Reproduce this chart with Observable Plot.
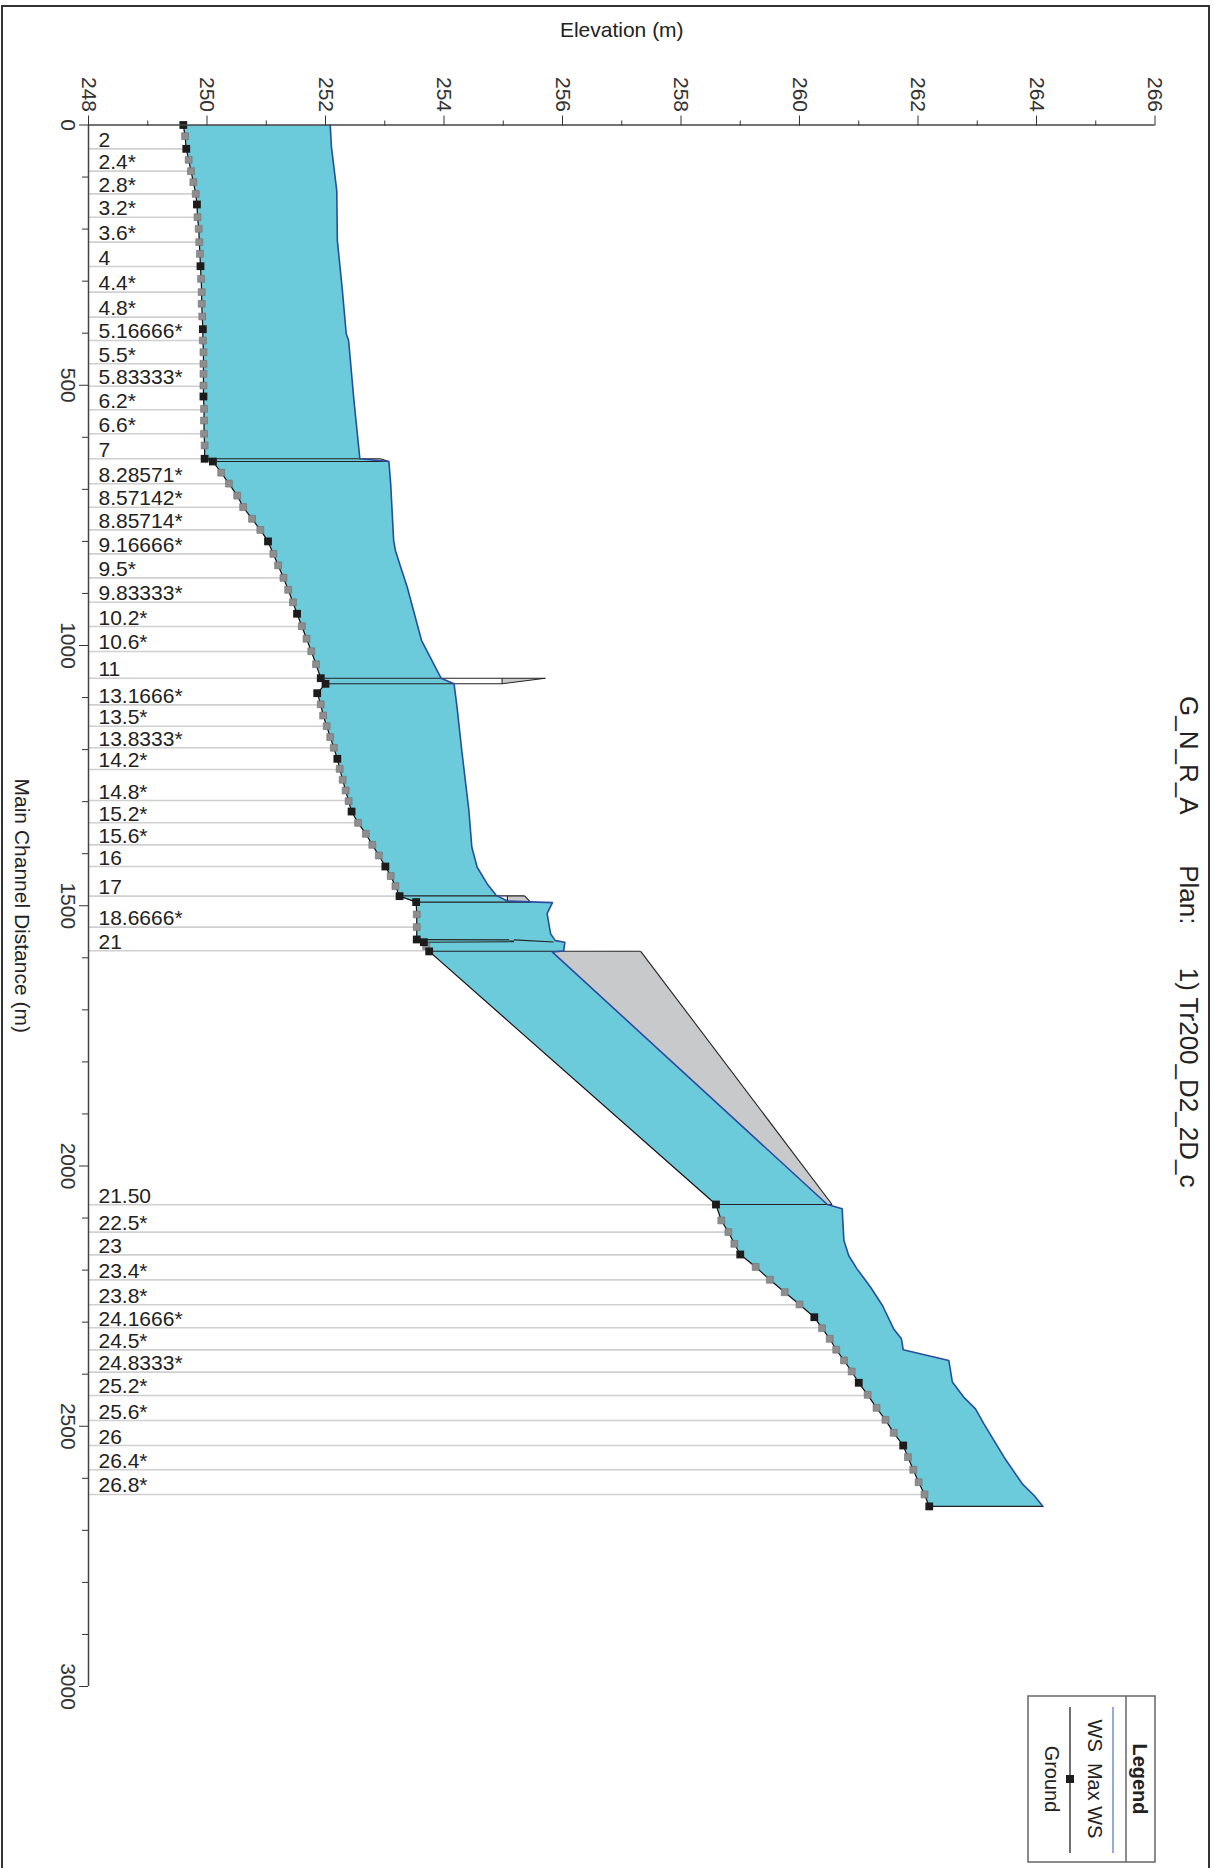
<!DOCTYPE html>
<html><head><meta charset="utf-8">
<script src="https://cdn.jsdelivr.net/npm/d3@7"></script>
<script src="https://cdn.jsdelivr.net/npm/@observablehq/plot@0.6"></script>
<style>
body{margin:0;background:#fff;}
#page{position:relative;width:1214px;height:1868px;overflow:hidden;background:#fff;font-family:"Liberation Sans",Arial,Helvetica,sans-serif;}
#chart{position:absolute;left:0;top:0;}
#border{position:absolute;left:1px;top:5px;width:1205px;height:1880px;border:2.5px solid #333;}
#legend{position:absolute;left:1027px;top:1695px;}
</style></head><body>
<div id="page"><div id="chart"></div><div id="border"></div><div id="legend"></div></div>
<script>
// ---------- data ----------
const groundDist = [0,21.5,45.8,66.9,88.7,109.8,132.3,152.7,177.1,199.5,225.1,247.5,271.3,295.6,321.1,343.5,367.9,392.3,414,436.5,458.8,478,500.5,521.6,545.3,567.7,593.3,615.8,641.3,
  646.5,668,689,712,734,756.6,778,800,824,846,870,893,917,939,963,987,1011,1036,1062.8,
  1073.6,1091.6,1113,1134.6,1155,1176,1196.5,1217.7,1237,1258,1278.6,1299,1319,1340.7,1361.8,1383,1403.5,1424.6,1443,1462.3,1481.6,
  1493,1516.7,1541,1564.8,1570,1578,1587.7,
  2074,2104.6,2127,2149.5,2170,2194,2218.6,2242.5,2266,2290.5,2311.6,2332,2353,2373.6,2394.8,2416.5,2439.6,2464.6,2487.7,2512.6,2537,2559.4,2583.7,2607.5,2631,2654];
const groundElev = [249.60,249.63,249.65,249.69,249.73,249.77,249.81,249.83,249.84,249.86,249.87,249.88,249.89,249.90,249.91,249.91,249.92,249.93,249.93,249.94,249.94,249.94,249.94,249.94,249.95,249.95,249.95,249.96,249.96,
  250.10,250.24,250.37,250.51,250.61,250.76,250.90,251.03,251.12,251.20,251.29,251.37,251.45,251.52,251.60,251.68,251.76,251.84,251.92,
  252.00,251.86,251.92,251.96,252.02,252.08,252.14,252.20,252.24,252.29,252.34,252.39,252.44,252.55,252.68,252.79,252.90,253.01,253.10,253.18,253.25,
  253.53,253.54,253.54,253.54,253.66,253.70,253.75,
  258.59,258.68,258.80,258.90,259.00,259.26,259.50,259.75,260.00,260.25,260.38,260.51,260.62,260.75,260.88,261.00,261.15,261.30,261.45,261.59,261.75,261.83,261.92,262.01,262.11,262.19];
const groundType = ["B","G","B","G","G","G","G","B","G","G","G","G","B","G","G","G","G","B","G","G","G","G","G","B","G","G","G","G","B",
  "B","G","G","G","G","G","G","B","G","G","G","G","G","B","G","G","G","G","B",
  "B","B","G","G","G","G","G","B","G","G","G","G","B","G","G","G","G","B","G","G","B",
  "B","G","G","B","B","G","B",
  "B","G","G","G","B","G","G","G","G","B","G","G","G","G","G","B","G","G","G","G","B","G","G","G","G","B"];

const wsDist = [0,42,126,222,312,401,414,529,641.3,
  646.5,689,798,817.5,849.5,888,990,1062.8,
  1073.6,1118.5,1201.7,1317,1387.5,1426,1458,1480,1491,
  1494,1515,1554,1567,1570,1587,
  1589,2074,
  2082,2143,2172,2197.6,2233,2268,2313,2332,2353,2373.6,2415,2444,2466.5,2495,2559,2610.6,2633,2654];
const wsElev = [252.08,252.10,252.19,252.20,252.28,252.35,252.39,252.48,252.58,
  253.07,253.10,253.15,253.18,253.27,253.38,253.62,253.95,
  254.17,254.22,254.30,254.42,254.47,254.56,254.73,254.88,255.07,
  255.83,255.74,255.80,255.88,256.04,256.02,
  255.83,260.47,
  260.72,260.75,260.83,260.97,261.20,261.40,261.59,261.72,261.75,262.52,262.58,262.77,262.97,263.11,263.45,263.76,263.96,264.11];

const sectionNames = ["2","2.4*","2.8*","3.2*","3.6*","4","4.4*","4.8*","5.16666*","5.5*","5.83333*","6.2*","6.6*","7",
  "8.28571*","8.57142*","8.85714*","9.16666*","9.5*","9.83333*","10.2*","10.6*","11",
  "13.1666*","13.5*","13.8333*","14.2*","14.8*","15.2*","15.6*","16","17","18.6666*","21",
  "21.50","22.5*","23","23.4*","23.8*","24.1666*","24.5*","24.8333*","25.2*","25.6*","26","26.4*","26.8*"];
const sectionDist = [45.8,88.7,132.3,177.1,225.1,271.9,321.1,369.2,414,458.8,501.8,547.2,593.3,641.3,
  689.3,734.3,777.8,823.9,870,916.8,963.5,1011.5,1062.8,
  1114,1155,1196.5,1238.2,1297.8,1340.6,1383,1424.6,1481.6,1541,1586.5,
  2074.5,2127,2170.7,2218.8,2266.7,2310.9,2353.2,2396.1,2440.9,2489,2537,2583.7,2631.1];
const sectionGround = [249.65,249.73,249.81,249.84,249.87,249.89,249.91,249.92,249.93,249.94,249.94,249.95,249.95,249.96,
  250.37,250.61,250.90,251.12,251.29,251.45,251.60,251.76,251.92,
  251.92,252.02,252.14,252.24,252.38,252.55,252.79,253.01,253.25,253.54,253.75,
  258.59,258.80,259.00,259.50,260.00,260.38,260.62,260.88,261.15,261.45,261.75,261.92,262.11];

// structure outlines: [dist1, elev1, dist2, elev2]
const structureEdges = [
  [641.3,249.96,641.3,252.93],[641.3,252.93,646.5,253.07],[646.5,250.10,646.5,253.07],
  [1062.8,251.92,1062.8,255.71],[1073.6,252.00,1073.6,254.98],[1073.6,254.98,1062.8,255.71],[1062.8,254.98,1073.6,254.98],
  [1481,253.25,1481,255.36],[1481,255.36,1493,255.46],[1493,253.53,1493,255.46],[1481,255.07,1493,255.07],
  [1565,253.54,1565.5,255.18],[1565.5,255.18,1569.5,255.85],[1570,253.66,1569,255.18],
  [1587.5,253.75,1587.5,257.32],[1587.5,257.32,2074,260.55],[2074,258.59,2074,260.55],
  [2654,262.19,2654,264.11]
];
// grey structure faces: list of [dist, elev] vertices
const structureFaces = [
  [[641.3,252.62],[641.3,252.93],[646.5,253.07],[646.5,252.95]],
  [[1062.8,254.98],[1062.8,255.71],[1073.6,254.98]],
  [[1481,255.07],[1481,255.36],[1493,255.46],[1493,255.07]],
  [[1565.8,255.18],[1569.5,255.85],[1569,255.18]],
  [[1589,255.83],[1587.5,257.32],[2074,260.55],[2074,260.47]]
];

const elevTicks = [248,250,252,254,256,258,260,262,264,266];
const elevMinor = [249,251,253,255,257,259,261,263,265];
const distTicks = [0,500,1000,1500,2000,2500,3000];
const distMinor = [100,200,300,400,600,700,800,900,1100,1200,1300,1400,1600,1700,1800,1900,2100,2200,2300,2400,2600,2700,2800,2900];

const titleText = "G_N_R_A" + "\u00A0".repeat(7) + "Plan:" + "\u00A0".repeat(6) + "1) Tr200_D2_2D_c";

// ---------- build tables ----------
const ground = groundDist.map((d, i) => ({d, e: groundElev[i], t: groundType[i]}));
const ws = wsDist.map((d, i) => ({d, e: wsElev[i]}));
const wetPoly = [...ground.map(p => ({d: p.d, e: p.e})), ...ws.slice().reverse()];
const sections = sectionNames.map((name, i) => ({name, d: sectionDist[i], e: sectionGround[i]}));
const edges = structureEdges.map(([d1, e1, d2, e2]) => ({d1, e1, d2, e2}));
const faces = structureFaces.flatMap((f, k) => f.map(([d, e]) => ({k, d, e})));

const CYAN = "#6ccbdb", BLUE = "#2c4aa0", INK = "#222";

const chart = Plot.plot({
  width: 1214, height: 1868,
  marginLeft: 88, marginRight: 59.5, marginTop: 124.5, marginBottom: 182,
  x: {domain: [248, 266]},
  y: {domain: [0, 3000], reverse: true},
  style: {fontFamily: '"Liberation Sans", Arial, Helvetica, sans-serif', fontSize: "21px", color: INK, background: "transparent"},
  marks: [
    // section lines and labels
    Plot.ruleY(sections, {y: "d", x1: 248, x2: "e", stroke: "#d0d0d0", strokeWidth: 1.6}),
    Plot.text(sections, {x: 248, y: "d", text: "name", textAnchor: "start", lineAnchor: "bottom", dx: 10, dy: -2, fontSize: 21, fill: INK}),
    // grey structure faces
    Plot.line(faces, {x: "e", y: "d", z: "k", fill: "#c8c9cb", stroke: "none", curve: "linear-closed"}),
    // water between ground and WS
    Plot.line(wetPoly, {x: "e", y: "d", fill: CYAN, stroke: "none", curve: "linear-closed"}),
    // structure outlines
    Plot.link(edges, {x1: "e1", y1: "d1", x2: "e2", y2: "d2", stroke: "#222", strokeWidth: 1.1}),
    // WS line
    Plot.line(ws, {x: "e", y: "d", stroke: BLUE, strokeWidth: 1.6}),
    // ground
    Plot.line(ground, {x: "e", y: "d", stroke: "#111", strokeWidth: 1.2}),
    Plot.dot(ground.filter(p => p.t === "G"), {x: "e", y: "d", symbol: "square", r: 3.9, fill: "#8d8e90", stroke: "#6e6f71", strokeWidth: 0.6}),
    Plot.dot(ground.filter(p => p.t === "B"), {x: "e", y: "d", symbol: "square", r: 4.4, fill: "#1c1c1c"}),
    // axes
    Plot.ruleY([0], {stroke: "#444", strokeWidth: 1.5}),
    Plot.ruleX([248], {stroke: "#444", strokeWidth: 1.5}),
    Plot.axisX({anchor: "top", ticks: elevTicks, tickSize: 10, tickPadding: 3, tickRotate: 90, tickFormat: d => String(d), label: null, color: "#333", fontSize: 21}),
    Plot.axisX({anchor: "top", ticks: elevMinor, tickSize: 5, tickFormat: () => "", label: null, color: "#333"}),
    Plot.axisY({anchor: "left", ticks: distTicks, tickSize: 9, tickPadding: 4, tickRotate: 90, tickFormat: d => String(d), label: null, color: "#333", fontSize: 21}),
    Plot.axisY({anchor: "left", ticks: distMinor, tickSize: 6, tickFormat: () => "", label: null, color: "#333"}),
    // titles
    Plot.text(["Elevation (m)"], {frameAnchor: "top", dy: -94.5, textAnchor: "middle", lineAnchor: "middle", fontSize: 21, fill: INK}),
    Plot.text(["Main Channel Distance (m)"], {frameAnchor: "left", dx: -66.6, textAnchor: "middle", lineAnchor: "middle", rotate: 90, fontSize: 21, fill: INK}),
    Plot.text([titleText], {frameAnchor: "right", dx: 33.5, dy: 36, textAnchor: "middle", lineAnchor: "middle", rotate: 90, fontSize: 26, fill: INK})
  ]
});
document.getElementById("chart").append(chart);

// ---------- legend (rotated like the page) ----------
document.getElementById("legend").innerHTML = `
<svg width="132" height="170" style="font-family:'Liberation Sans',Arial,sans-serif;font-size:20px">
  <rect x="1" y="1" width="127" height="166" fill="#fff" stroke="#666" stroke-width="1.5"/>
  <line x1="99" y1="1" x2="99" y2="167" stroke="#666" stroke-width="1.5"/>
  <text transform="translate(113,84) rotate(90)" text-anchor="middle" dominant-baseline="central" font-weight="bold" fill="#222">Legend</text>
  <line x1="86" y1="12" x2="86" y2="158" stroke="#5d7cc8" stroke-width="1.3"/>
  <text transform="translate(68,84) rotate(90)" text-anchor="middle" dominant-baseline="central" fill="#222">WS\u00A0\u00A0Max WS</text>
  <line x1="43" y1="12" x2="43" y2="158" stroke="#222" stroke-width="1.3"/>
  <rect x="39" y="80" width="8" height="8" fill="#1c1c1c"/>
  <text transform="translate(25,84) rotate(90)" text-anchor="middle" dominant-baseline="central" fill="#222">Ground</text>
</svg>`;
</script>
</body></html>
